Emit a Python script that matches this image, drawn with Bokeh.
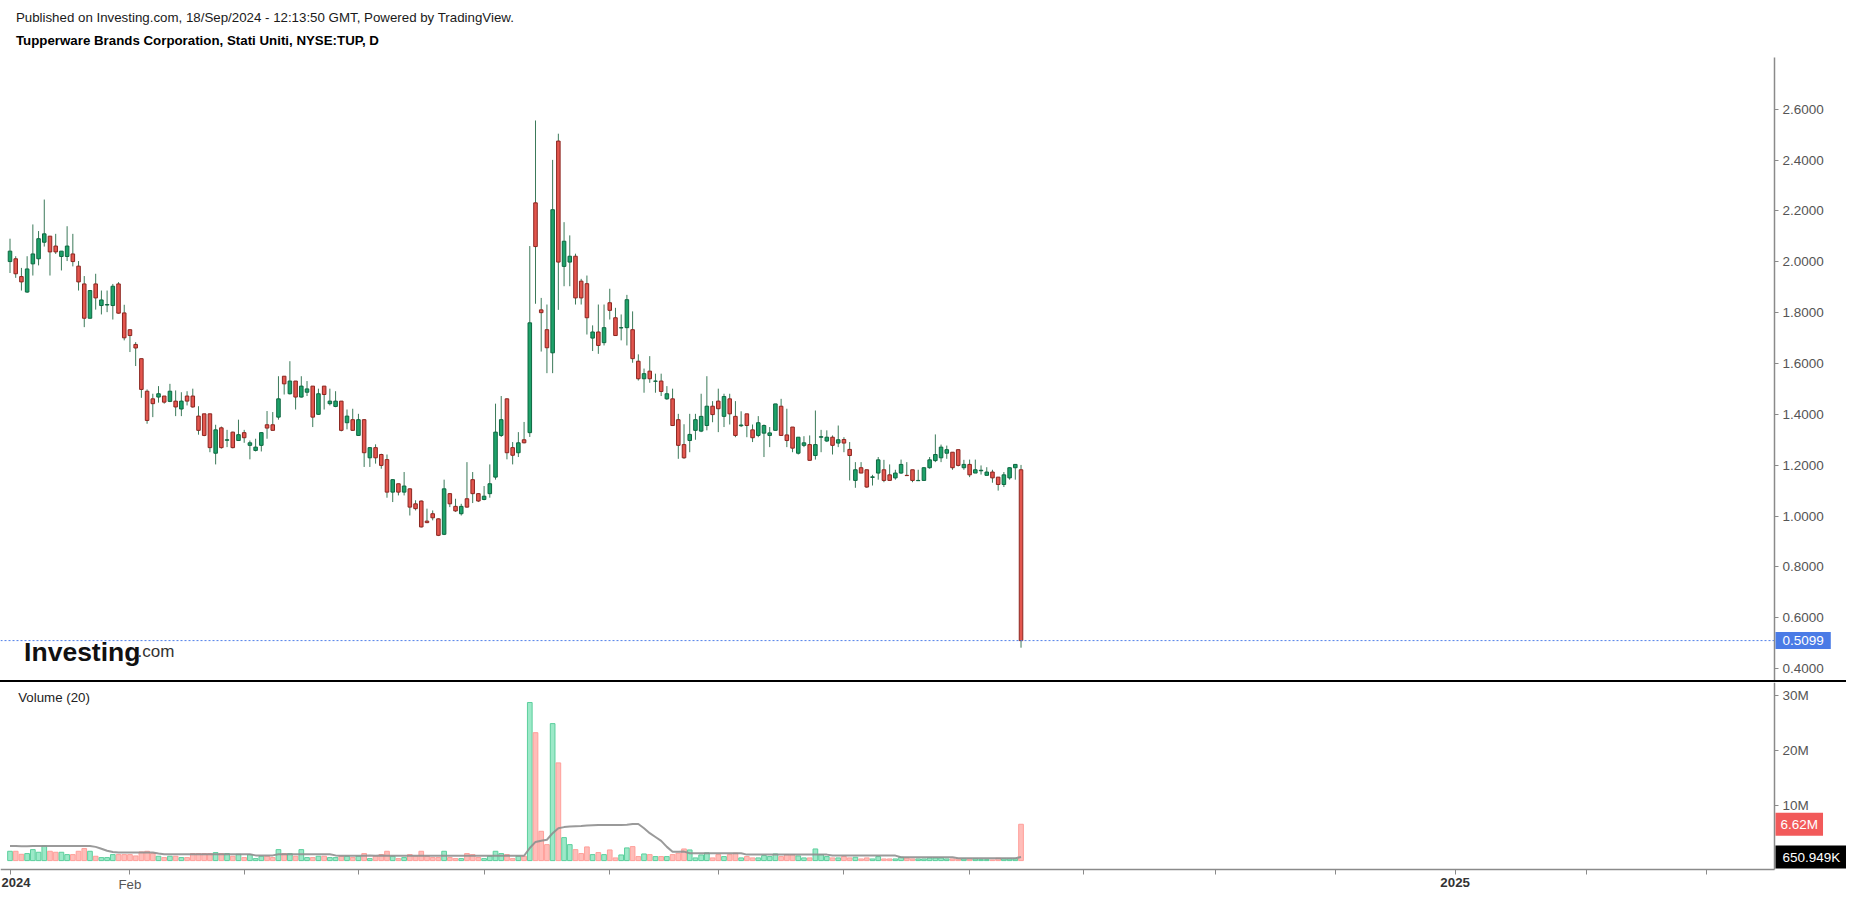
from bokeh.plotting import figure
from bokeh.models import (Range1d, FixedTicker, Label, Div,
                          ColumnDataSource, NumeralTickFormatter)
from bokeh.layouts import column
from bokeh.embed import file_html
from bokeh.resources import INLINE

# ---------------- data ----------------
opens = [2.001, 2.012, 1.942, 1.881, 1.992, 2.012, 2.077, 2.101, 2.062, 2.021,
         2.021, 2.031, 1.983, 1.913, 1.778, 1.913, 1.828, 1.830, 1.828, 1.913,
         1.799, 1.733, 1.675, 1.619, 1.491, 1.461, 1.468, 1.472, 1.451, 1.452,
         1.421, 1.472, 1.472, 1.393, 1.402, 1.402, 1.247, 1.347, 1.298, 1.330,
         1.297, 1.328, 1.278, 1.258, 1.278, 1.359, 1.359, 1.389, 1.550, 1.481,
         1.531, 1.468, 1.487, 1.511, 1.400, 1.511, 1.442, 1.431, 1.452, 1.367,
         1.379, 1.317, 1.379, 1.229, 1.269, 1.242, 1.222, 1.094, 1.127, 1.094,
         1.107, 1.048, 1.059, 0.980, 1.009, 0.989, 0.928, 1.088, 1.038, 1.009,
         1.068, 1.143, 1.088, 1.065, 1.088, 1.153, 1.317, 1.461, 1.269, 1.249,
         1.300, 1.328, 2.232, 1.811, 1.733, 1.642, 2.475, 1.982, 1.999, 2.022,
         1.924, 1.914, 1.700, 1.724, 1.682, 1.839, 1.780, 1.740, 1.741, 1.733,
         1.609, 1.540, 1.570, 1.530, 1.531, 1.461, 1.461, 1.379, 1.281, 1.297,
         1.337, 1.334, 1.356, 1.432, 1.452, 1.392, 1.461, 1.392, 1.355, 1.402,
         1.339, 1.317, 1.326, 1.317, 1.337, 1.432, 1.319, 1.350, 1.247, 1.278,
         1.281, 1.238, 1.310, 1.295, 1.310, 1.287, 1.301, 1.262, 1.140, 1.190,
         1.182, 1.152, 1.169, 1.182, 1.162, 1.150, 1.169, 1.160, 1.182, 1.139,
         1.140, 1.190, 1.218, 1.229, 1.247, 1.251, 1.261, 1.190, 1.203, 1.169,
         1.178, 1.160, 1.173, 1.153, 1.124, 1.150, 1.190, 1.182]
highs = [2.091, 2.022, 1.976, 2.022, 2.147, 2.121, 2.245, 2.101, 2.110, 2.042,
         2.140, 2.110, 2.003, 1.944, 1.887, 1.953, 1.887, 1.887, 1.913, 1.920,
         1.831, 1.733, 1.684, 1.619, 1.498, 1.481, 1.511, 1.472, 1.520, 1.494,
         1.487, 1.491, 1.501, 1.432, 1.402, 1.402, 1.359, 1.352, 1.339, 1.332,
         1.379, 1.339, 1.297, 1.304, 1.330, 1.413, 1.409, 1.550, 1.550, 1.609,
         1.531, 1.550, 1.531, 1.511, 1.501, 1.511, 1.501, 1.491, 1.452, 1.419,
         1.422, 1.402, 1.381, 1.271, 1.282, 1.245, 1.242, 1.145, 1.127, 1.173,
         1.109, 1.062, 1.061, 1.029, 1.022, 0.991, 1.143, 1.090, 1.068, 1.048,
         1.212, 1.173, 1.090, 1.118, 1.203, 1.442, 1.472, 1.463, 1.291, 1.330,
         1.370, 2.062, 2.556, 1.858, 1.832, 2.401, 2.504, 2.156, 2.104, 2.032,
         1.933, 1.946, 1.750, 1.832, 1.832, 1.894, 1.819, 1.793, 1.870, 1.805,
         1.636, 1.580, 1.629, 1.560, 1.560, 1.511, 1.501, 1.402, 1.361, 1.402,
         1.402, 1.481, 1.550, 1.452, 1.501, 1.481, 1.481, 1.452, 1.412, 1.402,
         1.360, 1.393, 1.360, 1.350, 1.441, 1.461, 1.422, 1.350, 1.310, 1.314,
         1.317, 1.415, 1.339, 1.337, 1.317, 1.356, 1.310, 1.291, 1.212, 1.212,
         1.182, 1.162, 1.232, 1.221, 1.203, 1.182, 1.222, 1.212, 1.182, 1.182,
         1.192, 1.232, 1.321, 1.281, 1.277, 1.251, 1.261, 1.221, 1.222, 1.222,
         1.199, 1.192, 1.182, 1.153, 1.173, 1.192, 1.203, 1.201]
lows = [1.956, 1.937, 1.887, 1.878, 1.946, 1.986, 2.060, 1.946, 2.031, 1.966,
        2.003, 1.982, 1.887, 1.743, 1.778, 1.812, 1.793, 1.802, 1.773, 1.796,
        1.691, 1.645, 1.590, 1.465, 1.363, 1.389, 1.446, 1.442, 1.448, 1.393,
        1.393, 1.435, 1.426, 1.320, 1.314, 1.251, 1.203, 1.265, 1.271, 1.266,
        1.295, 1.288, 1.223, 1.254, 1.254, 1.304, 1.337, 1.379, 1.478, 1.478,
        1.419, 1.466, 1.472, 1.350, 1.398, 1.419, 1.435, 1.428, 1.333, 1.341,
        1.335, 1.315, 1.193, 1.193, 1.206, 1.186, 1.072, 1.055, 1.081, 1.081,
        1.002, 1.022, 0.955, 0.972, 0.983, 0.921, 0.925, 1.035, 1.016, 1.002,
        1.033, 1.051, 1.055, 1.062, 1.072, 1.143, 1.311, 1.223, 1.203, 1.232,
        1.286, 1.311, 1.835, 1.647, 1.562, 1.562, 1.811, 1.904, 1.904, 1.832,
        1.832, 1.714, 1.649, 1.638, 1.671, 1.773, 1.710, 1.691, 1.671, 1.603,
        1.533, 1.485, 1.524, 1.485, 1.472, 1.457, 1.354, 1.225, 1.225, 1.251,
        1.300, 1.330, 1.337, 1.369, 1.330, 1.350, 1.360, 1.310, 1.350, 1.310,
        1.291, 1.310, 1.232, 1.271, 1.337, 1.317, 1.271, 1.251, 1.242, 1.271,
        1.219, 1.222, 1.251, 1.291, 1.242, 1.271, 1.251, 1.140, 1.111, 1.169,
        1.111, 1.120, 1.143, 1.133, 1.140, 1.143, 1.166, 1.159, 1.133, 1.139,
        1.140, 1.186, 1.212, 1.212, 1.225, 1.182, 1.195, 1.182, 1.153, 1.169,
        1.163, 1.160, 1.131, 1.100, 1.114, 1.143, 1.143, 0.482]
closes = [2.042, 1.953, 1.921, 1.972, 2.031, 2.091, 2.110, 2.039, 2.039, 2.042,
          2.062, 2.001, 1.921, 1.778, 1.887, 1.858, 1.850, 1.832, 1.904, 1.798,
          1.701, 1.710, 1.661, 1.498, 1.376, 1.442, 1.481, 1.448, 1.491, 1.429,
          1.452, 1.452, 1.429, 1.337, 1.317, 1.269, 1.339, 1.269, 1.300, 1.269,
          1.320, 1.308, 1.288, 1.271, 1.328, 1.346, 1.337, 1.461, 1.520, 1.531,
          1.468, 1.511, 1.500, 1.389, 1.481, 1.478, 1.452, 1.452, 1.337, 1.393,
          1.337, 1.379, 1.249, 1.269, 1.229, 1.199, 1.094, 1.143, 1.094, 1.118,
          1.035, 1.029, 0.957, 0.974, 0.993, 0.924, 1.107, 1.048, 1.020, 1.038,
          1.035, 1.088, 1.059, 1.078, 1.127, 1.330, 1.379, 1.249, 1.239, 1.288,
          1.288, 1.760, 2.060, 1.800, 1.662, 2.205, 1.999, 2.081, 2.022, 1.858,
          1.858, 1.780, 1.724, 1.671, 1.741, 1.809, 1.710, 1.741, 1.851, 1.619,
          1.540, 1.560, 1.540, 1.531, 1.490, 1.481, 1.356, 1.278, 1.229, 1.321,
          1.379, 1.392, 1.432, 1.399, 1.422, 1.470, 1.402, 1.317, 1.358, 1.356,
          1.308, 1.367, 1.356, 1.327, 1.441, 1.317, 1.297, 1.267, 1.310, 1.288,
          1.219, 1.281, 1.312, 1.310, 1.278, 1.300, 1.287, 1.238, 1.182, 1.169,
          1.114, 1.154, 1.221, 1.140, 1.140, 1.169, 1.203, 1.159, 1.140, 1.140,
          1.190, 1.221, 1.242, 1.271, 1.261, 1.190, 1.199, 1.203, 1.162, 1.182,
          1.180, 1.173, 1.150, 1.124, 1.162, 1.190, 1.203, 0.5099]
# volume in millions of shares
volumes = [1.70, 1.70, 1.15, 1.28, 2.00, 1.52, 2.67, 1.70, 1.52, 1.52,
           1.09, 1.09, 1.70, 2.19, 1.70, 0.79, 0.55, 0.55, 1.09, 1.09,
           1.09, 1.09, 0.85, 1.58, 1.70, 1.28, 0.79, 0.55, 0.79, 0.79,
           0.55, 0.55, 1.28, 1.28, 1.28, 1.28, 1.46, 1.28, 1.28, 0.79,
           1.15, 0.55, 1.09, 0.36, 0.79, 0.79, 0.55, 2.00, 1.28, 1.28,
           0.79, 2.00, 0.55, 0.55, 0.79, 0.79, 0.55, 0.55, 0.79, 0.79,
           0.55, 0.79, 1.28, 0.36, 0.79, 1.09, 1.70, 0.79, 0.36, 0.55,
           1.09, 0.79, 1.70, 0.79, 0.55, 0.55, 1.70, 0.55, 0.36, 0.36,
           1.28, 1.09, 0.55, 0.36, 0.79, 1.70, 1.28, 1.09, 0.36, 0.79,
           0.79, 28.8, 23.3, 5.34, 2.91, 24.95, 17.8, 4.19, 2.91, 2.00,
           1.28, 2.49, 1.09, 1.46, 1.09, 1.94, 0.49, 1.03, 2.31, 2.55,
           0.73, 1.21, 1.09, 0.73, 0.73, 0.73, 1.09, 1.34, 2.12, 1.94,
           0.49, 1.03, 1.40, 0.49, 1.09, 0.73, 1.09, 1.34, 0.49, 0.73,
           0.49, 0.49, 0.91, 0.73, 1.21, 0.73, 1.09, 1.09, 0.85, 0.49,
           0.49, 2.12, 1.09, 0.73, 0.49, 0.49, 0.73, 0.49, 0.61, 0.30,
           0.49, 0.30, 0.73, 0.30, 0.30, 0.30, 0.61, 0.49, 0.30, 0.30,
           0.30, 0.49, 0.49, 0.49, 0.30, 0.30, 0.30, 0.30, 0.30, 0.30,
           0.18, 0.18, 0.12, 0.42, 0.30, 0.30, 0.30, 6.62]
# 20-day volume moving average (millions)
vol_ma = [2.67, 2.66, 2.62, 2.62, 2.66, 2.67, 2.67, 2.67, 2.67, 2.67,
          2.67, 2.67, 2.67, 2.67, 2.67, 2.50, 2.15, 1.80, 1.55, 1.46,
          1.46, 1.46, 1.46, 1.46, 1.46, 1.46, 1.30, 1.15, 1.15, 1.15,
          1.15, 1.15, 1.15, 1.15, 1.15, 1.15, 1.15, 1.15, 1.15, 1.15,
          1.15, 1.15, 1.15, 0.95, 0.95, 0.95, 0.95, 1.15, 1.15, 1.15,
          1.15, 1.15, 1.15, 1.15, 1.15, 1.15, 1.15, 0.95, 0.88, 0.88,
          0.88, 0.88, 0.88, 0.95, 0.88, 0.95, 0.88, 0.88, 0.88, 0.88,
          0.88, 0.88, 0.88, 0.88, 0.88, 0.88, 0.88, 0.88, 0.88, 0.88,
          0.88, 0.88, 0.88, 0.88, 0.88, 0.88, 0.88, 0.88, 0.88, 0.88,
          0.88, 2.30, 3.40, 3.60, 3.80, 5.00, 5.90, 6.10, 6.20, 6.25,
          6.30, 6.40, 6.45, 6.50, 6.50, 6.50, 6.50, 6.50, 6.55, 6.68,
          6.68, 5.90, 5.00, 4.30, 3.60, 2.50, 1.60, 1.62, 1.64, 1.34,
          1.34, 1.34, 1.34, 1.34, 1.34, 1.34, 1.34, 1.34, 1.34, 1.09,
          1.09, 1.09, 1.09, 1.09, 1.09, 1.09, 1.09, 1.09, 1.09, 1.09,
          1.09, 1.09, 1.09, 1.09, 0.91, 0.91, 0.91, 0.91, 0.91, 0.91,
          0.91, 0.91, 0.91, 0.91, 0.91, 0.91, 0.61, 0.61, 0.61, 0.61,
          0.61, 0.61, 0.61, 0.61, 0.61, 0.61, 0.42, 0.42, 0.42, 0.42,
          0.42, 0.42, 0.42, 0.42, 0.42, 0.42, 0.42, 0.651]

price_ticks = [0.4, 0.6, 0.8, 1.0, 1.2, 1.4, 1.6, 1.8, 2.0, 2.2, 2.4, 2.6]
vol_ticks = [10, 20, 30]
vol_tick_labels = ["10M", "20M", "30M"]
month_tick_idx = [0, 21, 41, 61, 83, 105, 124, 146, 168, 188, 211, 232, 253, 276, 297]
month_tick_labels = ["2024", "Feb", "", "", "", "", "", "", "", "", "", "", "2025", "", ""]
year_ticks = {0: "2024", 253: "2025"}

last_price_text = "0.5099"
last_volume_text = "6.62M"
last_ma_text = "650.949K"

header_line1 = "Published on Investing.com, 18/Sep/2024 - 12:13:50 GMT, Powered by TradingView."
header_line2 = "Tupperware Brands Corporation, Stati Uniti, NYSE:TUP, D"

# ---------------- layout / styling ----------------
FONT = "Liberation Sans"
UP_FILL, UP_LINE = "#1ea26a", "#0d6840"
DN_FILL, DN_LINE = "#e3564e", "#8c2620"
WICK = "#3c7a5a"
VUP_FILL, VUP_LINE = "#9ce9c8", "#5ccf9d"
VDN_FILL, VDN_LINE = "#ffbdb9", "#ff9f9a"
AXIS_COLOR = "#8a8a8a"
LABEL_COLOR = "#555555"

W = 1846                 # canvas width (px)
PX_PER_BAR = 5.712       # horizontal pixels per trading day
X0_PX = 9.5              # pixel position of the first bar
AXIS_PX = 1774           # pixel position of the right price/volume scale
PX_PER_PRICE = 254.2     # vertical pixels per 1.0 of price
PRICE_2_6_PX = 108.8     # pixel row of the 2.6000 level
PX_PER_MVOL = 5.49       # vertical pixels per 1M shares
VOL0_PX = 860.1          # pixel row of zero volume
H1, SEP, H2 = 680, 2, 209

x_start = -X0_PX / PX_PER_BAR
x_end = x_start + W / PX_PER_BAR
axis_x = (AXIS_PX - X0_PX) / PX_PER_BAR
xr = Range1d(x_start, x_end)

def price_at(py):
    return 2.6 + (PRICE_2_6_PX - py) / PX_PER_PRICE

def vol_at(py):
    return (VOL0_PX - py) / PX_PER_MVOL

def idx_at(px):
    return (px - X0_PX) / PX_PER_BAR

n = len(opens)
idx = list(range(n))
up = [c >= o for o, c in zip(opens, closes)]

src = ColumnDataSource(dict(
    x=idx, o=opens, h=highs, l=lows, c=closes,
    top=[max(o, c) for o, c in zip(opens, closes)],
    bot=[min(o, c) for o, c in zip(opens, closes)],
    fill=[UP_FILL if u else DN_FILL for u in up],
    line=[UP_LINE if u else DN_LINE for u in up],
    vol=volumes, ma=vol_ma,
    vfill=[VUP_FILL if u else VDN_FILL for u in up],
    vline=[VUP_LINE if u else VDN_LINE for u in up],
))

def style_axis(ax, size="13.5px"):
    ax.axis_line_color = AXIS_COLOR
    ax.axis_line_width = 1.5
    ax.major_tick_line_color = AXIS_COLOR
    ax.major_tick_in = 0
    ax.minor_tick_line_color = None
    ax.major_label_text_font = FONT
    ax.major_label_text_font_size = size
    ax.major_label_text_color = LABEL_COLOR

# ---------------- price panel ----------------
p_lo, p_hi = price_at(H1), price_at(0)
p = figure(width=W, height=H1, x_range=xr, y_range=Range1d(p_lo, p_hi),
           output_backend="svg", toolbar_location=None, tools="",
           x_axis_location=None, y_axis_location="right",
           min_border_left=0, min_border_right=0, min_border_top=0,
           min_border_bottom=0, title=None)
p.outline_line_color = None
p.grid.visible = False

yax = p.yaxis[0]
yax.fixed_location = axis_x
yax.bounds = (p_lo, price_at(57))
yax.ticker = FixedTicker(ticks=price_ticks)
yax.formatter = NumeralTickFormatter(format="0.0000")
style_axis(yax)
yax.major_tick_out = 4
yax.major_label_standoff = 4

# header
p.add_layout(Label(x=idx_at(15.4), y=price_at(16.5), text=header_line1,
                   text_font=FONT, text_font_size="13.3px", text_color="#1a1a1a",
                   text_baseline="middle", text_align="left"))
p.add_layout(Label(x=idx_at(15.4), y=price_at(40.2), text=header_line2,
                   text_font=FONT, text_font_size="13.3px", text_font_style="bold",
                   text_color="#000000", text_baseline="middle", text_align="left"))

# candles
p.segment(x0="x", y0="l", x1="x", y1="h", source=src, line_color=WICK, line_width=1)
p.vbar(x="x", width=0.62, top="top", bottom="bot", source=src,
       fill_color="fill", line_color="line", line_width=1)

# last-price line and tag
p.line(x=[x_start, axis_x], y=[closes[-1], closes[-1]], line_color="#4f7ee8",
       line_dash="2 2", line_width=1)
p.add_layout(Label(x=axis_x, y=closes[-1], x_offset=1, text=last_price_text,
                   text_font=FONT, text_font_size="13.5px", text_color="white",
                   text_align="left", text_baseline="middle",
                   background_fill_color="#4a7be6", padding=(7, 4)))

# Investing.com watermark
logo_y = price_at(651)
p.add_layout(Label(x=idx_at(23.6), y=logo_y, text="Investing", text_font=FONT,
                   text_font_size="26.5px", text_font_style="bold",
                   text_color="#111111", text_baseline="alphabetic"))
p.add_layout(Label(x=idx_at(137), y=logo_y, text=".com", text_font=FONT,
                   text_font_size="17px", text_color="#333333",
                   text_baseline="alphabetic"))

# ---------------- separator ----------------
sep = Div(text="", width=W, height=SEP, margin=(0, 0, 0, 0),
          styles={"background-color": "#000000", "overflow": "hidden"})

# ---------------- volume panel ----------------
top2 = H1 + SEP
v_lo, v_hi = vol_at(top2 + H2), vol_at(top2)
v = figure(width=W, height=H2, x_range=xr, y_range=Range1d(v_lo, v_hi),
           output_backend="svg", toolbar_location=None, tools="",
           y_axis_location="right",
           min_border_left=0, min_border_right=0, min_border_top=0,
           min_border_bottom=0, title=None)
v.outline_line_color = None
v.grid.visible = False

v.vbar(x="x", width=0.82, top="vol", bottom=0, source=src,
       fill_color="vfill", line_color="vline", line_width=1)
v.line(x="x", y="ma", source=src, line_color="#8f8f8f", line_width=2, line_alpha=0.9)

x_axis_level = vol_at(869)

vy = v.yaxis[0]
vy.fixed_location = axis_x
vy.bounds = (x_axis_level, v_hi)
vy.ticker = FixedTicker(ticks=vol_ticks)
vy.major_label_overrides = dict(zip(vol_ticks, vol_tick_labels))
style_axis(vy)
vy.major_tick_out = 4
vy.major_label_standoff = 4

vx = v.xaxis[0]
vx.fixed_location = x_axis_level
vx.bounds = (x_start, axis_x)
vx.ticker = FixedTicker(ticks=month_tick_idx)
vx.major_label_overrides = {t: ("" if t in year_ticks else lab)
                            for t, lab in zip(month_tick_idx, month_tick_labels)}
style_axis(vx, "13.3px")
vx.major_tick_out = 5
vx.major_label_standoff = 2

# bold year labels on the time axis
v.add_layout(Label(x=idx_at(1), y=vol_at(882), text=year_ticks[0], text_font=FONT,
                   text_font_size="13px", text_font_style="bold", text_color="#333333",
                   text_align="left", text_baseline="middle"))
v.add_layout(Label(x=253, y=vol_at(882), text=year_ticks[253], text_font=FONT,
                   text_font_size="13.3px", text_font_style="bold", text_color="#333333",
                   text_align="center", text_baseline="middle"))

v.add_layout(Label(x=idx_at(17.7), y=vol_at(696.5), text="Volume (20)", text_font=FONT,
                   text_font_size="13.3px", text_color="#222222",
                   text_baseline="middle", text_align="left"))

v.add_layout(Label(x=axis_x, y=volumes[-1], x_offset=1, text=last_volume_text,
                   text_font=FONT, text_font_size="13.5px", text_color="white",
                   text_align="left", text_baseline="middle",
                   background_fill_color="#f25a5a", padding=(5, 4)))
v.add_layout(Label(x=axis_x, y=vol_ma[-1], x_offset=1, text=last_ma_text,
                   text_font=FONT, text_font_size="13.5px", text_color="white",
                   text_align="left", text_baseline="middle",
                   background_fill_color="#000000", padding=(7, 4)))

layout = column(p, sep, v, spacing=0)
open("out.html", "w").write(file_html(layout, INLINE))
